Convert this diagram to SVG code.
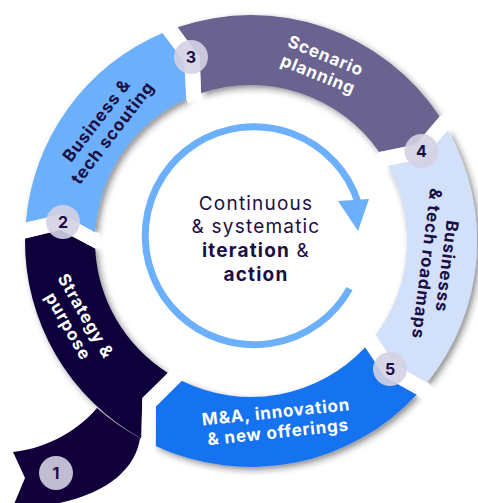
<svg xmlns="http://www.w3.org/2000/svg" width="478" height="503" viewBox="0 0 478 503">
  <defs>
    <filter id="shade" x="-20%" y="-20%" width="140%" height="140%">
      <feDropShadow dx="3" dy="3" stdDeviation="3" flood-color="#1c1a2c" flood-opacity="0.5"/>
    </filter>
    <style>
      .lbl { font-family: Inter, "Open Sans", "Liberation Sans", sans-serif; font-weight: 700; font-size: 17px; letter-spacing: 0.8px; text-anchor: middle; }
      .dark { fill: #1b0e44; }
      .light { fill: #ffffff; }
      .gap { fill: #ffffff; }
      .badge circle { fill: #d4d2e3; fill-opacity: 0.9; }
      .badge text { font-family: Inter, "Open Sans", "Liberation Sans", sans-serif; font-weight: 700; font-size: 16px; fill: #1b0e44; text-anchor: middle; }
      .hub { font-family: Inter, "Open Sans", "Liberation Sans", sans-serif; font-size: 19px; letter-spacing: 1.2px; fill: #1b0e44; text-anchor: middle; }
      .hub .b { font-weight: 700; }
    </style>
  </defs>

  <!-- ring segments, clockwise from the bottom -->
  <g id="strategy">
    <path filter="url(#shade)" fill="#11003a" d="M167.8,372.9 L142.3,398.0 L141.3,438.6 A226,226 0 0 1 25.0,238.4 L60.3,230.0 L95.2,248.5 A156,156 0 0 0 167.8,372.9 Z"/>
  </g>
  <g id="scouting">
    <path filter="url(#shade)" fill="#6cb0fc" d="M95.2,232.5 L61.9,214.1 L25.8,222.4 A226,226 0 0 1 162.6,33.0 L184.4,62.0 L186.2,99.1 A156,156 0 0 0 95.2,232.5 Z"/>
  </g>
  <g id="scenario">
    <path filter="url(#shade)" fill="#6b6390" d="M201.1,93.2 L199.6,57.0 L177.5,27.3 A226,226 0 0 1 439.6,116.5 L415.7,144.4 L379.2,152.1 A156,156 0 0 0 201.1,93.2 Z"/>
  </g>
  <g id="roadmaps">
    <path filter="url(#shade)" fill="#d2e1f9" d="M387.6,165.7 L423.2,158.5 L447.9,130.1 A226,226 0 0 1 427.2,382.5 L396.0,365.3 L375.5,335.0 A156,156 0 0 0 387.6,165.7 Z"/>
  </g>
  <g id="offerings">
    <path filter="url(#shade)" fill="#1873ef" d="M365.2,347.3 L385.1,377.0 L416.7,394.6 A226,226 0 0 1 155.6,445.9 L155.8,406.6 L181.7,380.8 A156,156 0 0 0 365.2,347.3 Z"/>
  </g>

  <!-- white chevron cuts between segments -->
  <g id="gaps">
    <path class="gap" d="M371.8,332.2 L375.5,335.0 L396.0,365.3 L427.2,382.5 L436.0,389.6 L425.0,402.3 L416.7,394.6 L385.1,377.0 L365.2,347.3 L361.8,344.1 Z"/>
    <path class="gap" d="M183.8,376.6 L181.7,380.8 L155.8,406.6 L155.6,445.9 L150.8,456.1 L135.8,448.5 L141.3,438.6 L142.3,398.0 L167.8,372.9 L170.3,369.0 Z"/>
    <path class="gap" d="M99.9,248.3 L95.2,248.5 L60.3,230.0 L25.0,238.4 L13.7,238.3 L14.5,221.5 L25.8,222.4 L61.9,214.1 L95.2,232.5 L99.9,232.8 Z"/>
    <path class="gap" d="M188.1,103.4 L186.2,99.1 L184.4,62.0 L162.6,33.0 L158.2,22.6 L173.8,16.6 L177.5,27.3 L199.6,57.0 L201.1,93.2 L202.6,97.6 Z"/>
    <path class="gap" d="M375.4,154.8 L379.2,152.1 L415.7,144.4 L439.6,116.5 L449.0,110.3 L457.7,124.6 L447.9,130.1 L423.2,158.5 L387.6,165.7 L383.5,168.0 Z"/>
  </g>

  <!-- starting tail of the strategy segment -->
  <g id="strategy-tail">
    <path fill="#11003a" d="M97,408 C80,428 50,448 13,452 L25,478 L12,509 C95,505 135,475 140,438 A226,226 0 0 1 97,408 Z"/>
  </g>

  <!-- segment labels -->
  <g id="labels">
    <text class="lbl light" transform="translate(77,321) rotate(60)"><tspan x="0" y="-4.2">Strategy &amp;</tspan><tspan x="0" y="16">purpose</tspan></text>
    <text class="lbl dark" transform="translate(104.5,126.5) rotate(-52.5)"><tspan x="0" y="-4.2">Business &amp;</tspan><tspan x="0" y="16">tech scouting</tspan></text>
    <text class="lbl light" transform="translate(322,65) rotate(22)"><tspan x="0" y="-4.2">Scenario</tspan><tspan x="0" y="16">planning</tspan></text>
    <text class="lbl dark" transform="translate(437,265) rotate(97)"><tspan x="0" y="-4.2">Businesss</tspan><tspan x="0" y="16">&amp; tech roadmaps</tspan></text>
    <text class="lbl light" transform="translate(277,422) rotate(-6)"><tspan x="0" y="-4.2">M&amp;A, innovation</tspan><tspan x="0" y="16">&amp; new offerings</tspan></text>
  </g>

  <!-- step badges -->
  <g id="badge-1" class="badge"><circle cx="56" cy="473" r="17"/><text x="56" y="478.8">1</text></g>
  <g id="badge-2" class="badge"><circle cx="63" cy="222" r="17"/><text x="63" y="227.8">2</text></g>
  <g id="badge-3" class="badge"><circle cx="191" cy="57" r="17"/><text x="191" y="62.8">3</text></g>
  <g id="badge-4" class="badge"><circle cx="421.5" cy="151" r="17"/><text x="421.5" y="156.8">4</text></g>
  <g id="badge-5" class="badge"><circle cx="390" cy="369" r="17"/><text x="390" y="374.8">5</text></g>

  <!-- central cycle arrow -->
  <g id="connectors">
    <path d="M349.5,288.6 A109,109 0 1 1 357.9,202.1" fill="none" stroke="#6cb0fc" stroke-width="7"/>
    <polygon points="338,201 369,199 358,231" fill="#6cb0fc"/>
  </g>

  <!-- hub text -->
  <g id="hub">
    <text class="hub" x="256" y="210">Continuous</text>
    <text class="hub" x="256" y="233">&amp; systematic</text>
    <text class="hub" x="256" y="257"><tspan class="b">iteration</tspan> &amp;</text>
    <text class="hub" x="256" y="281"><tspan class="b">action</tspan></text>
  </g>
</svg>
